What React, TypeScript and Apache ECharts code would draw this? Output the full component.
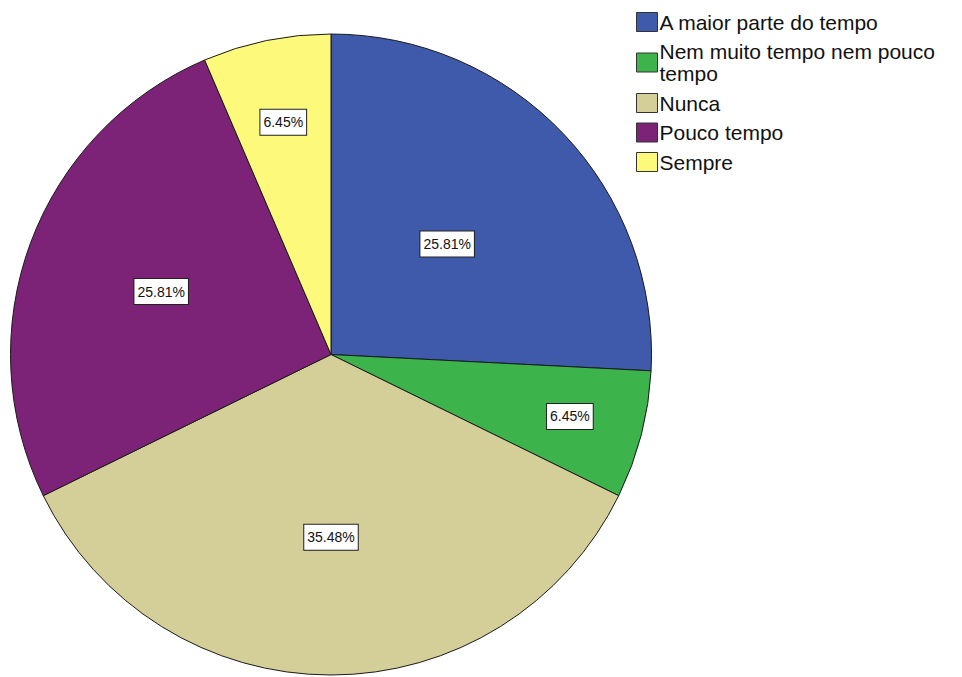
import React, { useEffect, useRef } from "react";
import * as echarts from "echarts";

const categories = [
  "A maior parte do tempo",
  "Nem muito tempo nem pouco tempo",
  "Nunca",
  "Pouco tempo",
  "Sempre",
];
const percents = [25.81, 6.45, 35.48, 25.81, 6.45];
const colors = ["#3F59AB", "#3CB34B", "#D4CE99", "#7C2378", "#FCF97B"];
// label distance from centre as a fraction of radius (SPSS placement)
const labelRadiusFrac = [0.5, 0.77, 0.57, 0.565, 0.74];

const CX = 331;
const CY = 354.5;
const R = 320.5;

export default function App() {
  const ref = useRef<HTMLDivElement>(null);
  useEffect(() => {
    if (!ref.current) return;
    const chart = echarts.init(ref.current, undefined, { renderer: "svg" });
    const total = percents.reduce((a, b) => a + b, 0);
    const midAngles: number[] = [];
    let acc = 90;
    percents.forEach((v) => {
      const sweep = (v / total) * 360;
      midAngles.push(acc - sweep / 2);
      acc -= sweep;
    });
    chart.setOption({
      animation: false,
      backgroundColor: "#ffffff",
      textStyle: { fontFamily: "Liberation Sans, Arial, sans-serif" },
      legend: {
        orient: "vertical",
        left: 636,
        top: 11,
        padding: 0,
        itemWidth: 21,
        itemHeight: 19,
        itemGap: 7.5,
        icon: "rect",
        selectedMode: false,
        itemStyle: { borderColor: "#333", borderWidth: 1 },
        textStyle: {
          fontSize: 21,
          lineHeight: 22,
          color: "#111",
          padding: [0, 0, 0, -3],
          fontFamily: "Liberation Sans, Arial, sans-serif",
        },
        formatter: (name: string) =>
          name === "Nem muito tempo nem pouco tempo"
            ? "Nem muito tempo nem pouco\ntempo"
            : name,
        data: categories,
      },
      series: [
        {
          type: "pie",
          center: [CX, CY],
          radius: R,
          startAngle: 90,
          clockwise: true,
          avoidLabelOverlap: false,
          itemStyle: { borderColor: "#1a1a1a", borderWidth: 1 },
          emphasis: { disabled: true },
          label: {
            show: true,
            position: "inside",
            formatter: (p: any) => p.value.toFixed(2) + "%",
            fontSize: 14,
            lineHeight: 18,
            color: "#111",
            backgroundColor: "#ffffff",
            borderColor: "#222",
            borderWidth: 1,
            padding: [4, 3, 3, 3],
            fontFamily: "Liberation Sans, Arial, sans-serif",
          },
          labelLayout: (params: any) => {
            const i = params.dataIndex;
            const a = (midAngles[i] * Math.PI) / 180;
            const r = labelRadiusFrac[i] * R;
            return {
              x: CX + r * Math.cos(a),
              y: CY - r * Math.sin(a),
              align: "center",
              verticalAlign: "middle",
            };
          },
          data: categories.map((name, i) => ({
            name,
            value: percents[i],
            itemStyle: { color: colors[i] },
          })),
        },
      ],
    });
    return () => chart.dispose();
  }, []);
  return (
    <div
      ref={ref}
      style={{ position: "fixed", left: 0, top: 0, width: 962, height: 677 }}
    />
  );
}
